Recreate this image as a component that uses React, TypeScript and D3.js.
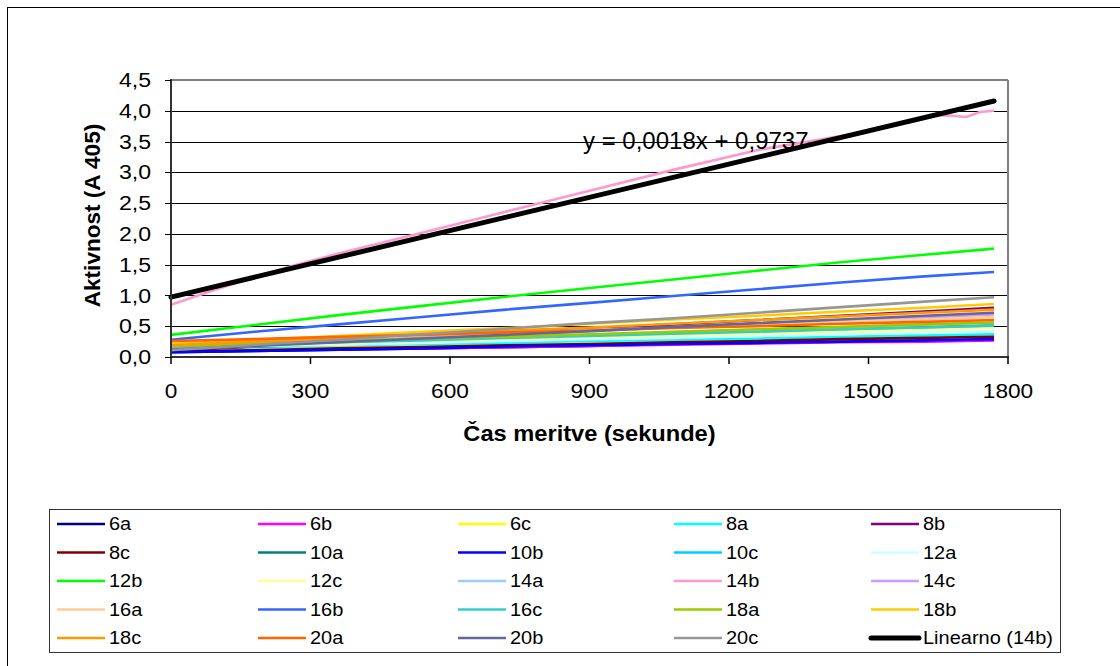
import React from "react";
import * as d3 from "d3";

// ---------- data ----------
const TIMES = [0, 180, 360, 540, 720, 900, 1080, 1260, 1440, 1620, 1770];
const TIMES_14B = [0, 90, 180, 270, 360, 540, 720, 900, 1080, 1260, 1440, 1530, 1590, 1620, 1650, 1680, 1710, 1740, 1770];

const S_6A = [0.08, 0.10, 0.12, 0.14, 0.16, 0.18, 0.21, 0.23, 0.25, 0.27, 0.28];
const S_6B = [0.09, 0.11, 0.13, 0.14, 0.16, 0.18, 0.20, 0.22, 0.24, 0.25, 0.27];
const S_6C = [0.12, 0.14, 0.16, 0.17, 0.19, 0.21, 0.23, 0.25, 0.27, 0.28, 0.30];
const S_8A = [0.14, 0.16, 0.19, 0.21, 0.23, 0.26, 0.28, 0.30, 0.33, 0.35, 0.37];
const S_8B = [0.10, 0.17, 0.24, 0.31, 0.38, 0.46, 0.53, 0.60, 0.67, 0.74, 0.80];
const S_8C = [0.09, 0.11, 0.14, 0.16, 0.19, 0.21, 0.24, 0.26, 0.29, 0.31, 0.33];
const S_10A = [0.13, 0.17, 0.21, 0.25, 0.29, 0.33, 0.37, 0.41, 0.45, 0.49, 0.52];
const S_10B = [0.08, 0.10, 0.12, 0.14, 0.17, 0.19, 0.21, 0.23, 0.25, 0.27, 0.29];
const S_10C = [0.14, 0.18, 0.21, 0.25, 0.28, 0.32, 0.35, 0.39, 0.42, 0.46, 0.49];
const S_12A = [0.15, 0.18, 0.20, 0.23, 0.26, 0.29, 0.31, 0.34, 0.37, 0.40, 0.42];
const S_12B = [0.36, 0.52, 0.68, 0.83, 0.98, 1.12, 1.26, 1.40, 1.54, 1.66, 1.76];
const S_12C = [0.17, 0.20, 0.23, 0.26, 0.29, 0.32, 0.35, 0.38, 0.41, 0.44, 0.47];
const S_14A = [0.16, 0.20, 0.24, 0.28, 0.32, 0.36, 0.40, 0.44, 0.48, 0.52, 0.55];
const S_14B = [0.85, 1.08, 1.30, 1.50, 1.68, 2.02, 2.36, 2.70, 3.04, 3.36, 3.59, 3.72, 3.82, 3.87, 3.93, 3.92, 3.90, 3.98, 4.00];
const S_14C = [0.15, 0.21, 0.26, 0.31, 0.37, 0.42, 0.48, 0.53, 0.59, 0.64, 0.69];
const S_16A = [0.22, 0.26, 0.31, 0.35, 0.39, 0.44, 0.48, 0.53, 0.57, 0.61, 0.65];
const S_16B = [0.28, 0.41, 0.53, 0.65, 0.77, 0.88, 0.99, 1.10, 1.21, 1.31, 1.38];
const S_16C = [0.17, 0.20, 0.24, 0.27, 0.31, 0.34, 0.38, 0.41, 0.45, 0.48, 0.51];
const S_18A = [0.18, 0.22, 0.26, 0.30, 0.33, 0.37, 0.41, 0.45, 0.49, 0.53, 0.56];
const S_18B = [0.21, 0.28, 0.34, 0.41, 0.47, 0.54, 0.61, 0.67, 0.74, 0.80, 0.86];
const S_18C = [0.19, 0.25, 0.31, 0.37, 0.43, 0.48, 0.54, 0.60, 0.66, 0.72, 0.77];
const S_20A = [0.26, 0.29, 0.33, 0.36, 0.40, 0.43, 0.47, 0.50, 0.54, 0.57, 0.60];
const S_20B = [0.12, 0.18, 0.24, 0.30, 0.36, 0.42, 0.49, 0.55, 0.61, 0.67, 0.72];
const S_20C = [0.11, 0.20, 0.28, 0.37, 0.46, 0.55, 0.63, 0.72, 0.81, 0.90, 0.97];

const SERIES_NAMES = ["6a", "6b", "6c", "8a", "8b", "8c", "10a", "10b", "10c", "12a", "12b", "12c", "14a", "14b", "14c", "16a", "16b", "16c", "18a", "18b", "18c", "20a", "20b", "20c"];
const SERIES_VALUES = [S_6A, S_6B, S_6C, S_8A, S_8B, S_8C, S_10A, S_10B, S_10C, S_12A, S_12B, S_12C, S_14A, S_14B, S_14C, S_16A, S_16B, S_16C, S_18A, S_18B, S_18C, S_20A, S_20B, S_20C];
const SERIES_COLORS = ["#000080", "#FF00FF", "#FFFF00", "#00FFFF", "#800080", "#800000", "#008080", "#0000FF", "#00CCFF", "#CCFFFF", "#00FF00", "#FFFF99", "#99CCFF", "#FF99CC", "#CC99FF", "#FFCC99", "#3366FF", "#33CCCC", "#99CC00", "#FFCC00", "#FF9900", "#FF6600", "#666699", "#969696"];

const TREND_NAME = "Linearno (14b)";
const TREND_SLOPE = 0.0018;
const TREND_INTERCEPT = 0.9737;
const TREND_X = [0, 1770];
const TREND_LABEL = "y = 0,0018x + 0,9737";

const X_TICKS = [0, 300, 600, 900, 1200, 1500, 1800];
const Y_TICKS = [0, 0.5, 1, 1.5, 2, 2.5, 3, 3.5, 4, 4.5];
const X_TITLE = "Čas meritve (sekunde)";
const Y_TITLE = "Aktivnost (A 405)";

// ---------- layout ----------
const W = 1120;
const H = 666;
const PL = 171, PR = 1008, PT = 80, PB = 357;
const FONT = "Arial, 'Liberation Sans', sans-serif";

export default function App() {
  const x = d3.scaleLinear().domain([0, 1800]).range([PL, PR]);
  const y = d3.scaleLinear().domain([0, 4.5]).range([PB, PT]);
  const line = d3
    .line<[number, number]>()
    .x((d) => x(d[0]))
    .y((d) => y(d[1]));

  const seriesPts = SERIES_VALUES.map((vals, i) => {
    const ts = SERIES_NAMES[i] === "14b" ? TIMES_14B : TIMES;
    return vals.map((v, j) => [ts[j], v] as [number, number]);
  });
  const trendPts = TREND_X.map((t) => [t, TREND_INTERCEPT + TREND_SLOPE * t] as [number, number]);

  const legendItems = [
    ...SERIES_NAMES.map((n, i) => ({ name: n, color: SERIES_COLORS[i], w: 2.6 })),
    { name: TREND_NAME, color: "#000000", w: 5 },
  ];
  const colX = [57, 258, 458, 674, 871];
  const rowY0 = 524;
  const rowH = 28.5;

  const fmtY = (v: number) => v.toFixed(1).replace(".", ",");

  return (
    <svg
      width={W}
      height={H}
      style={{ position: "absolute", left: 0, top: 0, display: "block", background: "#fff" }}
      fontFamily={FONT}
    >
      {/* outer chart border */}
      <rect x={7.5} y={7.5} width={W} height={H} fill="#fff" stroke="#000" strokeWidth={1} />

      {/* gridlines */}
      {Y_TICKS.filter((t) => t > 0 && t < 4.5).map((t) => (
        <line key={"g" + t} x1={PL} x2={PR} y1={Math.round(y(t)) + 0.5} y2={Math.round(y(t)) + 0.5} stroke="#000" strokeWidth={1} />
      ))}

      {/* plot border (grey) */}
      <line x1={PL} x2={PR} y1={PT} y2={PT} stroke="#808080" strokeWidth={2} />
      <line x1={PR} x2={PR} y1={PT} y2={PB} stroke="#808080" strokeWidth={2} />

      {/* series */}
      {seriesPts.map((pts, i) => (
        <path key={SERIES_NAMES[i]} d={line(pts) || ""} fill="none" stroke={SERIES_COLORS[i]} strokeWidth={2.6} strokeLinejoin="round" />
      ))}
      {/* trend */}
      <path d={line(trendPts) || ""} fill="none" stroke="#000" strokeWidth={5} strokeLinecap="round" />

      {/* axes */}
      <line x1={PL} x2={PL} y1={PT - 1} y2={PB + 1} stroke="#333" strokeWidth={2} />
      <line x1={PL - 1} x2={PR + 1} y1={PB} y2={PB} stroke="#333" strokeWidth={2} />
      {Y_TICKS.map((t) => (
        <g key={"yt" + t}>
          <line x1={PL - 6} x2={PL} y1={Math.round(y(t)) + 0.5} y2={Math.round(y(t)) + 0.5} stroke="#000" strokeWidth={1} />
          <text
            transform={`translate(151, ${y(t)}) scale(1.1, 1)`}
            textAnchor="end"
            dominantBaseline="central"
            fontSize={21}
            fill="#000"
          >
            {fmtY(t)}
          </text>
        </g>
      ))}
      {X_TICKS.map((t) => (
        <g key={"xt" + t}>
          <line x1={x(t)} x2={x(t)} y1={PB} y2={PB + 7} stroke="#000" strokeWidth={1.5} />
          <text
            transform={`translate(${x(t)}, 391) scale(1.08, 1)`}
            textAnchor="middle"
            dominantBaseline="central"
            fontSize={21}
            fill="#000"
          >
            {t}
          </text>
        </g>
      ))}

      {/* axis titles */}
      <text
        transform={`translate(${(PL + PR) / 2}, 434) scale(1.1, 1)`}
        textAnchor="middle"
        dominantBaseline="central"
        fontSize={21.5}
        fontWeight="bold"
        fill="#000"
      >
        {X_TITLE}
      </text>
      <text
        transform={`translate(93, ${(PT + PB) / 2 - 3}) rotate(-90) scale(1.05, 1)`}
        textAnchor="middle"
        dominantBaseline="central"
        fontSize={21.5}
        fontWeight="bold"
        fill="#000"
      >
        {Y_TITLE}
      </text>

      {/* trend equation */}
      <text x={583} y={140} dominantBaseline="central" fontSize={24} fill="#000">
        {TREND_LABEL}
      </text>

      {/* legend */}
      <rect x={49.5} y={509.5} width={1011} height={143} fill="#fff" stroke="#333" strokeWidth={1} />
      {legendItems.map((it, i) => {
        const c = i % 5;
        const r = Math.floor(i / 5);
        const ly = rowY0 + r * rowH;
        return (
          <g key={"lg" + i}>
            <line x1={colX[c]} x2={colX[c] + 48} y1={ly} y2={ly} stroke={it.color} strokeWidth={it.w} strokeLinecap={it.w > 3 ? "round" : "butt"} />
            <text
              transform={`translate(${colX[c] + 52}, ${ly}) scale(1.08, 1)`}
              dominantBaseline="central"
              fontSize={18.5}
              fill="#000"
            >
              {it.name}
            </text>
          </g>
        );
      })}
    </svg>
  );
}
